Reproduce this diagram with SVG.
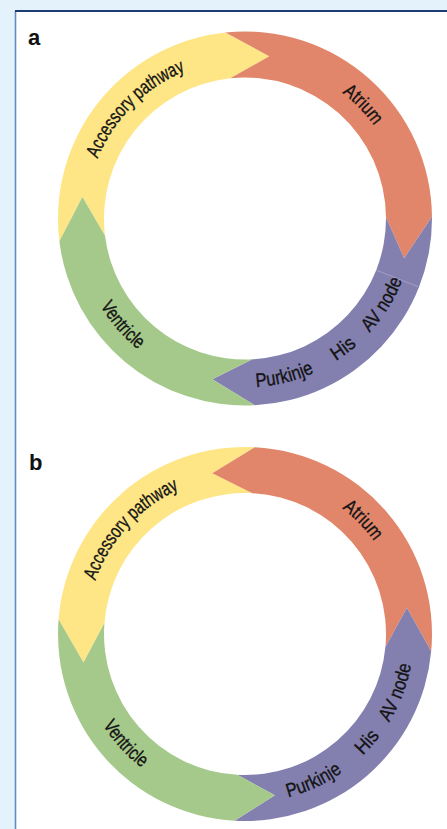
<svg xmlns="http://www.w3.org/2000/svg" width="447" height="829" viewBox="0 0 447 829">
<style>
.yel{fill:#fee686}
.ora{fill:#e1866a}
.pur{fill:#8380b0}
.gre{fill:#a5c98a}
.lbl{font-family:"Liberation Sans",Arial,sans-serif;font-size:19.5px;fill:#141414;stroke:#141414;stroke-width:0.35}
.pan{font-family:"Liberation Sans",Arial,sans-serif;font-size:22px;font-weight:bold;fill:#111}
</style>
<defs>
<path id="pa1" d="M86,218.5 A159,159 0 0 1 245,59.5"/>
<path id="pa2" d="M247.78,59.52 A159,159 0 0 1 403.98,221.28"/>
<path id="pa3" d="M283.02,383.17 A169,169 0 0 0 409.67,180.48"/>
<path id="pa4" d="M221.48,385.86 A169,169 0 0 0 412.36,242.02"/>
<path id="pa5" d="M157.96,363.36 A169,169 0 0 0 389.86,305.54"/>
<path id="pa6" d="M76.41,206.71 A169,169 0 0 0 233.21,387.09"/>
<path id="pb1" d="M86.15,640.94 A159,159 0 0 1 238.06,475.15"/>
<path id="pb2" d="M247.78,475.02 A159,159 0 0 1 403.98,636.78"/>
<path id="pb3" d="M313.74,788.39 A169,169 0 0 0 399.39,565.26"/>
<path id="pb4" d="M255.32,802.68 A169,169 0 0 0 413.68,623.68"/>
<path id="pb5" d="M187.2,792.81 A169,169 0 0 0 403.81,691.8"/>
<path id="pb6" d="M76.16,626.63 A169,169 0 0 0 237.63,802.84"/>
</defs>
<rect x="0" y="0" width="447" height="829" fill="#e4f3fb"/>
<rect x="16" y="11" width="431" height="818" fill="#ffffff"/>
<line x1="15.5" y1="11" x2="15.5" y2="829" stroke="#6089c6" stroke-width="1.6"/>
<line x1="15" y1="11" x2="447" y2="11" stroke="#1c3c76" stroke-width="2"/>

<g id="panel-a">
<text class="pan" x="28" y="45">a</text>
<g id="a-accessory">
<path class="yel" d="M59.39,241.29 A187,187 0 0 1 225.45,32.52 L269.24,56.3 L230.26,78.27 A141,141 0 0 0 105.05,235.68 L82.4,197.09 Z"/>
<text class="lbl"><textPath href="#pa1" startOffset="50%" text-anchor="middle" textLength="127" lengthAdjust="spacingAndGlyphs">Accessory pathway</textPath></text>
</g>
<g id="a-atrium">
<path class="ora" d="M225.45,32.52 A187,187 0 0 1 431.99,216.87 L404.13,258.18 L385.99,217.27 A141,141 0 0 0 230.26,78.27 L269.24,56.3 Z"/>
<text class="lbl"><textPath href="#pa2" startOffset="50%" text-anchor="middle" textLength="46" lengthAdjust="spacingAndGlyphs">Atrium</textPath></text>
</g>
<g id="a-conduction">
<path class="pur" d="M431.99,216.87 A187,187 0 0 1 254.79,405.24 L212.3,379.21 L252.38,359.31 A141,141 0 0 0 385.99,217.27 L404.13,258.18 Z"/>
<line x1="376.19" y1="270.18" x2="418.06" y2="286.67" stroke="#ffffff" stroke-opacity="0.3" stroke-width="0.8"/>
<text class="lbl"><textPath href="#pa3" startOffset="50%" text-anchor="middle" textLength="62" lengthAdjust="spacingAndGlyphs">AV node</textPath></text>
<text class="lbl"><textPath href="#pa4" startOffset="50%" text-anchor="middle" textLength="26" lengthAdjust="spacingAndGlyphs">His</textPath></text>
<text class="lbl"><textPath href="#pa5" startOffset="50%" text-anchor="middle" textLength="60" lengthAdjust="spacingAndGlyphs">Purkinje</textPath></text>
</g>
<g id="a-ventricle">
<path class="gre" d="M254.79,405.24 A187,187 0 0 1 59.39,241.29 L82.4,197.09 L105.05,235.68 A141,141 0 0 0 252.38,359.31 L212.3,379.21 Z"/>
<text class="lbl"><textPath href="#pa6" startOffset="50%" text-anchor="middle" textLength="58" lengthAdjust="spacingAndGlyphs">Ventricle</textPath></text>
</g>
</g>

<g id="panel-b">
<text class="pan" x="29" y="470">b</text>
<g id="b-accessory">
<path class="yel" d="M58.58,619.33 A187,187 0 0 1 254.79,447.26 L212.3,473.29 L252.38,493.19 A141,141 0 0 0 104.44,622.94 L83.49,662.48 Z"/>
<text class="lbl"><textPath href="#pb1" startOffset="50%" text-anchor="middle" textLength="127" lengthAdjust="spacingAndGlyphs">Accessory pathway</textPath></text>
</g>
<g id="b-atrium">
<path class="ora" d="M254.79,447.26 A187,187 0 0 1 431.2,651.27 L406.89,607.78 L385.4,647.02 A141,141 0 0 0 252.38,493.19 L212.3,473.29 Z"/>
<text class="lbl"><textPath href="#pb2" startOffset="50%" text-anchor="middle" textLength="46" lengthAdjust="spacingAndGlyphs">Atrium</textPath></text>
</g>
<g id="b-conduction">
<path class="pur" d="M431.2,651.27 A187,187 0 0 1 234.56,820.71 L274.89,795.25 L237.13,774.78 A141,141 0 0 0 385.4,647.02 L406.89,607.78 Z"/>
<text class="lbl"><textPath href="#pb3" startOffset="50%" text-anchor="middle" textLength="62" lengthAdjust="spacingAndGlyphs">AV node</textPath></text>
<text class="lbl"><textPath href="#pb4" startOffset="50%" text-anchor="middle" textLength="26" lengthAdjust="spacingAndGlyphs">His</textPath></text>
<text class="lbl"><textPath href="#pb5" startOffset="50%" text-anchor="middle" textLength="60" lengthAdjust="spacingAndGlyphs">Purkinje</textPath></text>
</g>
<g id="b-ventricle">
<path class="gre" d="M234.56,820.71 A187,187 0 0 1 58.58,619.33 L83.49,662.48 L104.44,622.94 A141,141 0 0 0 237.13,774.78 L274.89,795.25 Z"/>
<text class="lbl"><textPath href="#pb6" startOffset="50%" text-anchor="middle" textLength="58" lengthAdjust="spacingAndGlyphs">Ventricle</textPath></text>
</g>
</g>
</svg>
